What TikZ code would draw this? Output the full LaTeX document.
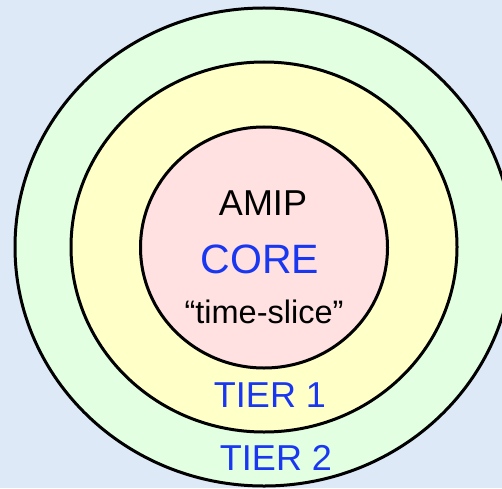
\documentclass[tikz,border=0pt]{standalone}
\usepackage{fontspec}
\setmainfont{Liberation Sans}
\definecolor{bgblue}{RGB}{221,233,246}
\definecolor{tiergreen}{RGB}{226,255,226}
\definecolor{tieryellow}{RGB}{255,255,200}
\definecolor{corepink}{RGB}{255,225,225}
\definecolor{labelblue}{RGB}{25,55,240}
\tikzset{ring/.style={draw=black, line width=3pt}}
\begin{document}
\begin{tikzpicture}[x=1pt,y=1pt]
\useasboundingbox (0,0) rectangle (502,488);
\clip (0,0) rectangle (502,488);
\fill [bgblue](0,0) rectangle (502,488);

\draw [ring, fill=tiergreen](264,241) ellipse (249 and 239);
\draw [ring, fill=tieryellow](264,241) ellipse (193 and 185);
\draw [ring, fill=corepink](264,240.5) ellipse (123.5 and 120.5);

\node (amip) [anchor=base, font=\fontsize{36}{36}\selectfont] at (263,273){AMIP};
\node (core) [anchor=base, text=labelblue, font=\fontsize{41}{41}\selectfont] at (260,215){CORE};
\node (slice) [anchor=base, font=\fontsize{32.5}{33}\selectfont] at (264,165){“time-slice”};
\node (tier1) [anchor=base, text=labelblue, font=\fontsize{36}{36}\selectfont] at (270,81){TIER 1};
\node (tier2) [anchor=base, text=labelblue, font=\fontsize{36}{36}\selectfont] at (276,18){TIER 2};
\end{tikzpicture}
\end{document}
